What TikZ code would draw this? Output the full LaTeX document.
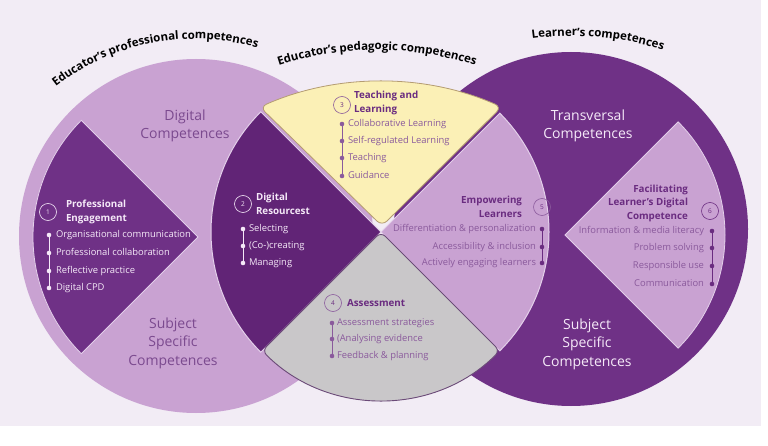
\documentclass[tikz,border=0pt]{standalone}
\usepackage{fontspec}
\setmainfont{Open Sans}
\usetikzlibrary{decorations.text}
\definecolor{bgcol}{HTML}{F2ECF5}
\definecolor{lightp}{HTML}{C9A2D2}
\definecolor{darkp}{HTML}{6F3186}
\definecolor{deepp}{HTML}{612476}
\definecolor{yellowp}{HTML}{FBF0B6}
\definecolor{greyp}{HTML}{C9C7C9}
\definecolor{headtx}{HTML}{6A2C80}
\definecolor{listtx}{HTML}{8A5A9C}
\definecolor{lighttx}{HTML}{F5E9F8}
\definecolor{midtx}{HTML}{7B4A8F}
\definecolor{edgel}{HTML}{E3CFEA}
\definecolor{edgey}{HTML}{B49C72}
\definecolor{edgeg}{HTML}{6B4A78}
\newcommand\ttlfont{\fontsize{11.5}{11.5}\selectfont\bfseries}

\begin{document}
\begin{tikzpicture}[x=1pt,y=1pt,inner sep=0pt,outer sep=0pt,
numc/.style={draw,circle,minimum size=17pt,line width=0.6pt,font=\fontsize{6.5}{6.5}\selectfont},
head/.style={font=\fontsize{9.8}{13.5}\selectfont\bfseries},
item/.style={font=\fontsize{9.4}{10}\selectfont,text height=6.8pt,text depth=2pt},
dot/.style={circle,minimum size=4.6pt},
big/.style={font=\fontsize{14}{18.5}\selectfont,align=center},
title/.style={decorate,decoration={text along path,text align=center,text={#1}}}]
\useasboundingbox (0,0) rectangle (768,445);
\fill[white] (0,0) rectangle (768,445);
\fill[bgcol] (0,19) rectangle (761,445);

\fill[lightp] (196,209) circle (177);
\filldraw[fill=darkp,draw=edgel,line width=0.8pt] (198,208) -- ++(135:165) arc[start angle=135,end angle=225,radius=165] -- cycle;
\fill[darkp] (571,216) circle (177);
\filldraw[fill=lightp,draw=edgel,line width=0.8pt] (565,210) -- ++(-45:160) arc[start angle=-45,end angle=45,radius=160] -- cycle;

\filldraw[fill=deepp,draw=edgel,line width=1pt] (381,213) -- ++(135:170) arc[start angle=135,end angle=225,radius=170] -- cycle;
\filldraw[fill=lightp,draw=edgel,line width=1pt] (381,213) -- ++(-45:168) arc[start angle=-45,end angle=45,radius=168] -- cycle;
\filldraw[fill=greyp,draw=edgeg,line width=0.9pt,rounded corners=6pt] (381,213) -- ++(225:168) arc[start angle=225,end angle=315,radius=168] -- cycle;
\filldraw[fill=yellowp,draw=edgey,line width=0.8pt,rounded corners=7pt] (382,219) -- (260,338) arc[start angle=113.75,end angle=66.25,radius=300] -- cycle;

\path[title={|\ttlfont|Educator’s professional competences}] (195,180) ++(132:226) arc[start angle=132,end angle=70,radius=226];
\path[title={|\ttlfont|Educator’s pedagogic competences}] (377,77) ++(112:318) arc[start angle=112,end angle=68,radius=318];
\path[title={|\ttlfont|Learner’s competences}] (572,109) ++(100:300) arc[start angle=100,end angle=70,radius=300];

\draw (185,319) node[big,text=midtx] (dcl) {Digital\\Competences};
\draw (173,102) node[big,text=midtx] (ssl) {Subject\\Specific\\Competences};
\draw (588,319) node[big,text=lighttx] (tcr) {Transversal\\Competences};
\draw (587,101) node[big,text=lighttx] (ssr) {Subject\\Specific\\Competences};

\draw (48,233) node[numc,draw=lighttx,text=lighttx] (n1) {1};
\draw (66,233) node[head,anchor=west,align=left,text=lighttx] (h1) {Professional\\Engagement};
\draw (49,210) node[dot,fill=lighttx] (d1a) {};
\draw (49,192) node[dot,fill=lighttx] (d1b) {};
\draw (49,174) node[dot,fill=lighttx] (d1c) {};
\draw (49,157) node[dot,fill=lighttx] (d1d) {};
\draw[lighttx,line width=0.9pt] (d1a) -- (d1d);
\draw (56,210) node[item,anchor=west,text=lighttx] (i1a) {Organisational communication};
\draw (56,192) node[item,anchor=west,text=lighttx] (i1b) {Professional collaboration};
\draw (56,174) node[item,anchor=west,text=lighttx] (i1c) {Reflective practice};
\draw (56,157) node[item,anchor=west,text=lighttx] (i1d) {Digital CPD};

\draw (243,241) node[numc,draw=lighttx,text=lighttx] (n2) {2};
\draw (256,241) node[head,anchor=west,align=left,text=lighttx] (h2) {Digital\\Resourcest};
\draw (243,216) node[dot,fill=lighttx] (d2a) {};
\draw (243,199) node[dot,fill=lighttx] (d2b) {};
\draw (243,182) node[dot,fill=lighttx] (d2c) {};
\draw[lighttx,line width=0.9pt] (d2a) -- (d2c);
\draw (249,216) node[item,anchor=west,text=lighttx] (i2a) {Selecting};
\draw (249,199) node[item,anchor=west,text=lighttx] (i2b) {(Co-)creating};
\draw (249,182) node[item,anchor=west,text=lighttx] (i2c) {Managing};

\draw (342,340) node[numc,draw=listtx,text=headtx] (n3) {3};
\draw (354,342) node[head,anchor=west,align=left,text=headtx] (h3) {Teaching and\\Learning};
\draw (342,321) node[dot,fill=listtx] (d3a) {};
\draw (342,304) node[dot,fill=listtx] (d3b) {};
\draw (342,287) node[dot,fill=listtx] (d3c) {};
\draw (342,269) node[dot,fill=listtx] (d3d) {};
\draw[listtx,line width=0.9pt] (d3a) -- (d3d);
\draw (348,321) node[item,anchor=west,text=listtx] (i3a) {Collaborative Learning};
\draw (348,304) node[item,anchor=west,text=listtx] (i3b) {Self-regulated Learning};
\draw (348,287) node[item,anchor=west,text=listtx] (i3c) {Teaching};
\draw (348,269) node[item,anchor=west,text=listtx] (i3d) {Guidance};

\draw (333,142) node[numc,draw=listtx,text=headtx] (n4) {4};
\draw (347,142) node[head,anchor=west,text=headtx] (h4) {Assessment};
\draw (332,122) node[dot,fill=listtx] (d4a) {};
\draw (332,106) node[dot,fill=listtx] (d4b) {};
\draw (332,89) node[dot,fill=listtx] (d4c) {};
\draw[listtx,line width=0.9pt] (d4a) -- (d4c);
\draw (337,122) node[item,anchor=west,text=listtx] (i4a) {Assessment strategies};
\draw (337,106) node[item,anchor=west,text=listtx] (i4b) {(Analysing evidence};
\draw (337,89) node[item,anchor=west,text=listtx] (i4c) {Feedback \& planning};

\draw (542,238) node[numc,draw=listtx,text=headtx] (n5) {5};
\draw (522,238) node[head,anchor=east,align=right,text=headtx] (h5) {Empowering\\Learners};
\draw (542,216) node[dot,fill=headtx] (d5a) {};
\draw (542,198) node[dot,fill=headtx] (d5b) {};
\draw (542,182) node[dot,fill=headtx] (d5c) {};
\draw[headtx,line width=0.9pt] (d5a) -- (d5c);
\draw (536,216) node[item,anchor=east,text=listtx] (i5a) {Differentiation \& personalization};
\draw (536,198) node[item,anchor=east,text=listtx] (i5b) {Accessibility \& inclusion};
\draw (536,182) node[item,anchor=east,text=listtx] (i5c) {Actively engaging learners};

\draw (710,234) node[numc,draw=headtx,text=headtx] (n6) {6};
\draw (688,242) node[head,anchor=east,align=right,text=headtx] (h6) {Facilitating\\Learner’s Digital\\Competence};
\draw (712,214) node[dot,fill=headtx] (d6a) {};
\draw (712,197) node[dot,fill=headtx] (d6b) {};
\draw (712,179) node[dot,fill=headtx] (d6c) {};
\draw (712,161) node[dot,fill=headtx] (d6d) {};
\draw[headtx,line width=0.9pt] (d6a) -- (d6d);
\draw (704,214) node[item,anchor=east,text=listtx] (i6a) {Information \& media literacy};
\draw (704,197) node[item,anchor=east,text=listtx] (i6b) {Problem solving};
\draw (704,179) node[item,anchor=east,text=listtx] (i6c) {Responsible use};
\draw (704,161) node[item,anchor=east,text=listtx] (i6d) {Communication};
\end{tikzpicture}
\end{document}
